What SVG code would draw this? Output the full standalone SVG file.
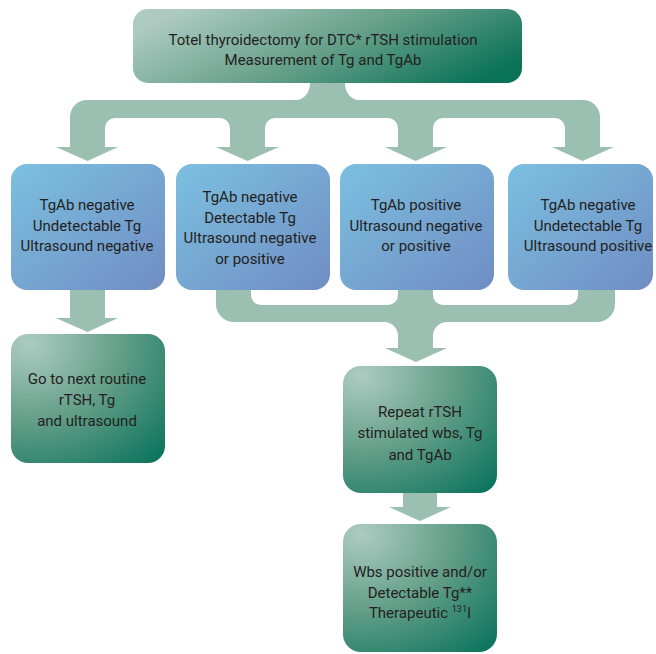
<svg xmlns="http://www.w3.org/2000/svg" width="656" height="654" viewBox="0 0 656 654">
<defs>
<linearGradient id="gBlue" x1="0" y1="0" x2="1" y2="1">
<stop offset="0" stop-color="#7cc0e0"/>
<stop offset="1" stop-color="#6f8dc3"/>
</linearGradient>
<radialGradient id="gGreen" cx="0.12" cy="0.08" r="1.25" fx="0.12" fy="0.08">
<stop offset="0" stop-color="#adcbc1"/>
<stop offset="0.5" stop-color="#5f9c86"/>
<stop offset="1" stop-color="#08725a"/>
</radialGradient>
<linearGradient id="gTop" x1="0" y1="0.3" x2="1" y2="0.7">
<stop offset="0" stop-color="#aecbc1"/>
<stop offset="0.55" stop-color="#5f9c86"/>
<stop offset="1" stop-color="#0a7256"/>
</linearGradient>
</defs>
<style>
.conn{fill:#9bbfb1;stroke:none}
.blue{fill:url(#gBlue)}
.green{fill:url(#gGreen)}
text{font-family:Roboto,"Liberation Sans",sans-serif;font-size:15px;fill:#231f20;text-anchor:middle}
</style>
<g id="connectors">
<rect class="conn" x="310" y="80" width="35" height="22"/>
<path class="conn" d="M310 83 L310 101 L293 101 A17 17 0 0 0 310 83 Z"/>
<path class="conn" d="M345 83 L345 101 L362 101 A17 17 0 0 1 345 83 Z"/>
<path class="conn" d="M70 147 L70 117 A17 17 0 0 1 87 100 L583 100 A17 17 0 0 1 600 117 L600 147 L565 147 L565 128 A10 10 0 0 0 555 118 L443 118 A10 10 0 0 0 433 128 L433 147 L398 147 L398 128 A10 10 0 0 0 388 118 L275 118 A10 10 0 0 0 265 128 L265 147 L230 147 L230 128 A10 10 0 0 0 220 118 L115 118 A10 10 0 0 0 105 128 L105 147 Z"/>
<polygon class="conn" points="56,147 118,147 87.5,161"/>
<polygon class="conn" points="216,147 279,147 247.5,161"/>
<polygon class="conn" points="385,147 447,147 415.5,161"/>
<polygon class="conn" points="552,147 614,147 582.5,161"/>
<path class="conn" d="M70 288 L105 288 L105 318 L118 318 L87.5 332 L56 318 L70 318 Z"/>
<path class="conn" d="M216 288 L251 288 L251 295 A10 10 0 0 0 261 305 L388 305 A10 10 0 0 0 398 295 L398 288 L433 288 L433 295 A10 10 0 0 0 443 305 L568 305 A10 10 0 0 0 578 295 L578 288 L615 288 L615 304 A18 18 0 0 1 597 322 L447 322 A14 14 0 0 0 433 336 L433 348 L447 348 L416 362 L385 348 L398 348 L398 336 A14 14 0 0 0 384 322 L234 322 A18 18 0 0 1 216 304 Z"/>
<path class="conn" d="M403 490 L437 490 L437 507 L451 507 L420 521 L389 507 L403 507 Z"/>
</g>
<g id="n-top">
<rect x="133" y="9" width="389" height="74" rx="15" fill="url(#gTop)"/>
<text x="323" y="45">Totel thyroidectomy for DTC* rTSH stimulation</text>
<text x="323" y="65">Measurement of Tg and TgAb</text>
</g>
<g id="n-b1">
<rect class="blue" x="11" y="164" width="154" height="126" rx="16"/>
<text x="87" y="210">TgAb negative</text>
<text x="87" y="230.5">Undetectable Tg</text>
<text x="87" y="251">Ultrasound negative</text>
</g>
<g id="n-b2">
<rect class="blue" x="176" y="164" width="154" height="126" rx="16"/>
<text x="250" y="202">TgAb negative</text>
<text x="250" y="222.5">Detectable Tg</text>
<text x="250" y="243">Ultrasound negative</text>
<text x="250" y="263.5">or positive</text>
</g>
<g id="n-b3">
<rect class="blue" x="340" y="164" width="154" height="126" rx="16"/>
<text x="416" y="210">TgAb positive</text>
<text x="416" y="230.5">Ultrasound negative</text>
<text x="416" y="251">or positive</text>
</g>
<g id="n-b4">
<rect class="blue" x="508" y="164" width="145" height="126" rx="16"/>
<text x="588" y="210">TgAb negative</text>
<text x="588" y="230.5">Undetectable Tg</text>
<text x="588" y="251">Ultrasound positive</text>
</g>
<g id="n-next">
<rect class="green" x="11" y="334" width="154" height="129" rx="17"/>
<text x="87" y="384">Go to next routine</text>
<text x="87" y="404.5">rTSH, Tg</text>
<text x="87" y="425.5">and ultrasound</text>
</g>
<g id="n-repeat">
<rect class="green" x="343" y="366" width="154" height="127" rx="18"/>
<text x="420" y="417">Repeat rTSH</text>
<text x="420" y="438">stimulated wbs, Tg</text>
<text x="420" y="459.5">and TgAb</text>
</g>
<g id="n-wbs">
<rect class="green" x="343" y="524" width="154" height="128" rx="18"/>
<text x="420" y="577">Wbs positive and/or</text>
<text x="420" y="597.5">Detectable Tg**</text>
<text x="420" y="618">Therapeutic <tspan font-size="9" dy="-6">131</tspan><tspan dy="6">I</tspan></text>
</g>
</svg>
